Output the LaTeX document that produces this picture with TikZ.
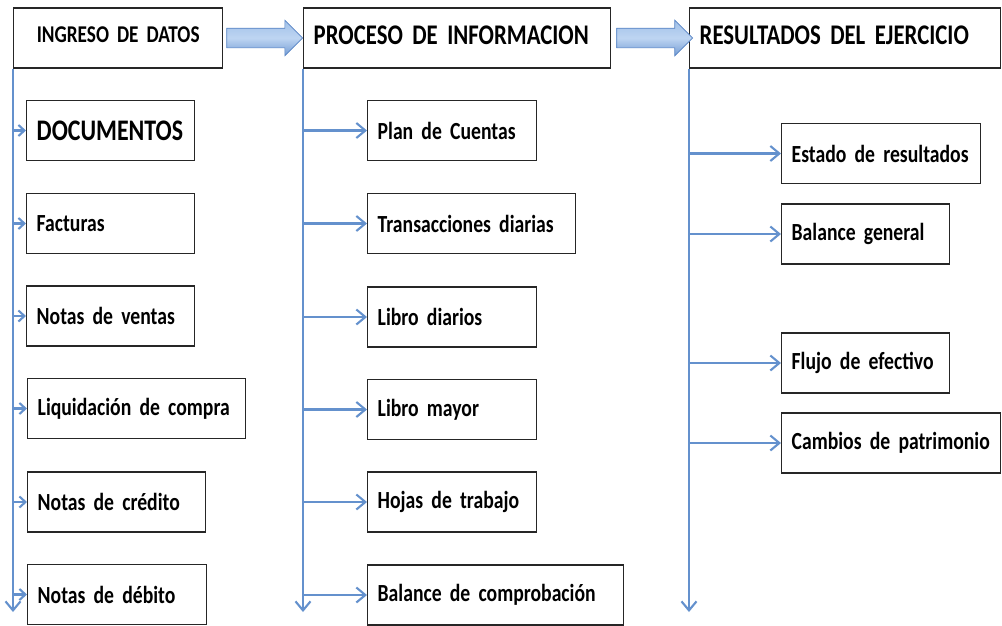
\documentclass[tikz,border=0pt]{standalone}
\usepackage{fontspec}
\newfontfamily\carl[UprightFont={* Bold},FakeStretch=0.8]{Carlito}
\newcommand\tight{\spaceskip=0.13em\relax}
\usetikzlibrary{arrows.meta,shapes.arrows}
\definecolor{lineblue}{RGB}{100,145,205}
\definecolor{arredge}{RGB}{85,130,195}
\definecolor{arrtop}{RGB}{160,192,232}
\definecolor{arrmid}{RGB}{190,213,242}
\definecolor{arrbot}{RGB}{115,156,212}
\begin{document}
\begin{tikzpicture}
[x=0.02cm,y=-0.02cm,
 ar/.style={-{Straight Barb[length=0.18cm,width=0.3cm]},line width=1.2pt,lineblue},
 sar/.style={-{Straight Barb[length=0.12cm,width=0.22cm]},line width=1.2pt,lineblue},
 hd/.style={draw=black!85,thick,anchor=west,minimum height=1.2cm,inner xsep=0.2cm,text depth=0.12cm,align=left,text width=#1,font={\carl\fontsize{16.2pt}{18pt}\selectfont\tight}},
 bx/.style={draw=black!85,thick,anchor=west,minimum height=1.2cm,inner xsep=0.2cm,align=left,text width=#1,font={\carl\fontsize{14pt}{16pt}\selectfont\tight}},
 big/.style={single arrow,draw=arredge,top color=arrtop,bottom color=arrbot,middle color=arrmid,minimum height=1.52cm,inner xsep=0pt,inner ysep=0.19cm,single arrow head extend=0.16cm,anchor=tail}]
\useasboundingbox (0,0) rectangle (1002,626);

% cabeceras
\node [hd=3.78cm,align=center,font={\carl\fontsize{13.7pt}{16pt}\selectfont\tight}] at (13,38) (ing) {INGRESO DE DATOS};
\node [hd=5.74cm] at (303,38) (pro) {PROCESO DE INFORMACION};
\node [hd=5.82cm] at (689,38) (res) {RESULTADOS DEL EJERCICIO};

\node [big] at ([xshift=0.06cm]ing.east) (f1) {};
\node [big] at ([xshift=0.1cm]pro.east) (f2) {};

% ingreso
\node [bx=2.96cm,font={\carl\fontsize{17pt}{19pt}\selectfont}] at (26,130.5) (doc) {DOCUMENTOS};
\node [bx=2.96cm] at (26,223.5) (fac) {Facturas};
\node [bx=2.96cm] at (26,316) (ven) {Notas de ventas};
\node [bx=3.96cm] at (27,408.5) (liq) {Liquidación de compra};
\node [bx=3.16cm] at (27,502) (cre) {Notas de crédito};
\node [bx=3.18cm] at (27,594.5) (deb) {Notas de débito};

% proceso
\node [bx=2.98cm] at (367,130.5) (plan) {Plan de Cuentas};
\node [bx=3.76cm] at (367,223.5) (tra) {Transacciones diarias};
\node [bx=2.98cm] at (367,317) (ldi) {Libro diarios};
\node [bx=2.98cm] at (367,409.5) (lma) {Libro mayor};
\node [bx=2.98cm] at (367,502) (hoj) {Hojas de trabajo};
\node [bx=4.72cm] at (367,595) (bal) {Balance de comprobación};

% resultados
\node [bx=3.58cm] at (781,153.5) (est) {Estado de resultados};
\node [bx=2.96cm] at (781,234) (bgen) {Balance general};
\node [bx=2.96cm] at (781,363) (flu) {Flujo de efectivo};
\node [bx=3.98cm] at (781,443) (cam) {Cambios de patrimonio};

\coordinate (e1) at (13,612);
\coordinate (e2) at (303,612);
\coordinate (e3) at (689,612);

\draw [ar] (ing.south west) -- (e1);
\draw [ar] (pro.south west) -- (e2);
\draw [ar] (res.south west) -- (e3);

\foreach \n in {doc,fac,ven,liq,cre,deb}
  \draw [sar] (ing.south west |- \n.west) -- (\n.west);
\foreach \n in {plan,tra,ldi,lma,hoj,bal}
  \draw [ar] (pro.south west |- \n.west) -- (\n.west);
\foreach \n in {est,bgen,flu,cam}
  \draw [ar] (res.south west |- \n.west) -- (\n.west);
\end{tikzpicture}
\end{document}
